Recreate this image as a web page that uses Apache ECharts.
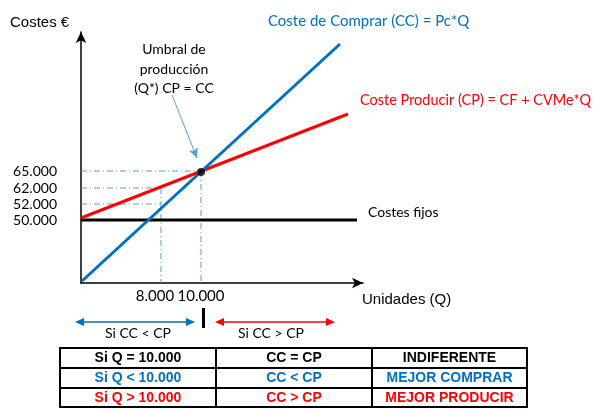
<!DOCTYPE html>
<html><head><meta charset="utf-8">
<script src="https://cdn.jsdelivr.net/npm/echarts@6/dist/echarts.min.js"></script>
<style>html,body{margin:0;padding:0;background:#fff}#c{width:608px;height:412px}</style>
</head><body><div id="c"></div>
<script>
// Schematic chart: positions are in schematic units (origin at axes corner)
const qTickPos = [80, 120];
const qTickLabels = ['8.000', '10.000'];
const costTickPos = [63, 79, 95, 112];
const costTickLabels = ['50.000', '52.000', '62.000', '65.000'];
const fixedCost = [[0, 63], [276, 63]];
const produceCost = [[0, 65], [267, 169]];
const buyCost = [[1, 2], [259, 239]];
const breakEven = [[120, 111]];
const annotationArrow = [[91, 188], [116, 125]];
const tableRows = [
  ['Si Q = 10.000', 'CC = CP', 'INDIFERENTE'],
  ['Si Q < 10.000', 'CC < CP', 'MEJOR COMPRAR'],
  ['Si Q > 10.000', 'CC > CP', 'MEJOR PRODUCIR']
];
const rowColors = ['#000000', '#0070C0', '#FF0000'];

const BLUE = '#0070C0', RED = '#FF0000', GUIDE = '#5B9BD5';
const CAL = 'Lato';
const ARIAL = '"Liberation Sans", Arial, sans-serif';

const guides = [
  [[0, costTickPos[3]], [qTickPos[1], costTickPos[3]]],
  [[qTickPos[1], costTickPos[3]], [qTickPos[1], 0]],
  [[0, costTickPos[2]], [qTickPos[0], costTickPos[2]]],
  [[0, costTickPos[1]], [qTickPos[0], costTickPos[1]]],
  [[qTickPos[0], costTickPos[2]], [qTickPos[0], 0]]
];

const guideSeries = guides.map(g => ({
  type: 'line', data: g, symbol: 'none', silent: true, z: 1,
  lineStyle: { color: GUIDE, width: 1, type: [6, 3, 1, 3] }
}));

function lbl(v, pos, labels) {
  const i = pos.indexOf(v);
  return i >= 0 ? labels[i] : '';
}

const chart = echarts.init(document.getElementById('c'), null, { renderer: 'canvas' });

// table graphics
const colX = [60, 216, 372, 527];
const rowY = [348, 368, 388, 407];
const tableEls = [];
tableEls.push({ type: 'rect', shape: { x: colX[0], y: rowY[0], width: colX[3] - colX[0], height: rowY[3] - rowY[0] }, style: { fill: 'none', stroke: '#000', lineWidth: 2 } });
for (let i = 1; i < 3; i++) {
  tableEls.push({ type: 'line', shape: { x1: colX[i], y1: rowY[0], x2: colX[i], y2: rowY[3] }, style: { stroke: '#000', lineWidth: 2 } });
  tableEls.push({ type: 'line', shape: { x1: colX[0], y1: rowY[i], x2: colX[3], y2: rowY[i] }, style: { stroke: '#000', lineWidth: 2 } });
}
tableRows.forEach((row, r) => {
  row.forEach((t, c) => {
    tableEls.push({ type: 'text', style: { text: t, x: (colX[c] + colX[c + 1]) / 2, y: (rowY[r] + rowY[r + 1]) / 2 + 0.5, align: 'center', verticalAlign: 'middle', fill: rowColors[r], font: 'bold 14px ' + ARIAL } });
  });
});

function dblArrow(x1, x2, y, color) {
  return [
    { type: 'line', shape: { x1: x1 + 6, y1: y, x2: x2 - 6, y2: y }, style: { stroke: color, lineWidth: 1.3 } },
    { type: 'polygon', shape: { points: [[x1, y], [x1 + 9, y - 4], [x1 + 9, y + 4]] }, style: { fill: color } },
    { type: 'polygon', shape: { points: [[x2, y], [x2 - 9, y - 4], [x2 - 9, y + 4]] }, style: { fill: color } }
  ];
}

const texts = [
  { type: 'text', style: { text: 'Costes €', x: 10, y: 23, verticalAlign: 'middle', fill: '#000', font: '15px ' + ARIAL } },
  { type: 'text', style: { text: 'Unidades (Q)', x: 362, y: 300, verticalAlign: 'middle', fill: '#000', font: '15px ' + ARIAL } },
  { type: 'text', style: { text: 'Coste de Comprar (CC) = Pc*Q', x: 268, y: 21, verticalAlign: 'middle', fill: BLUE, font: '15px ' + CAL } },
  { type: 'text', style: { text: 'Coste Producir (CP) = CF + CVMe*Q', x: 360, y: 100, verticalAlign: 'middle', fill: RED, font: '14.5px ' + CAL } },
  { type: 'text', style: { text: 'Costes fijos', x: 368, y: 212, verticalAlign: 'middle', fill: '#000', font: '14px ' + CAL } },
  { type: 'text', style: { text: 'Umbral de\nproducción\n(Q*) CP = CC', x: 174, y: 69, align: 'center', verticalAlign: 'middle', lineHeight: 19.5, fill: '#000', font: '14px ' + CAL } },
  { type: 'text', style: { text: 'Si CC < CP', x: 138, y: 333, align: 'center', verticalAlign: 'middle', fill: '#000', font: '14px ' + CAL } },
  { type: 'text', style: { text: 'Si CC > CP', x: 271, y: 333, align: 'center', verticalAlign: 'middle', fill: '#000', font: '14px ' + CAL } },
  { type: 'rect', shape: { x: 202, y: 308, width: 3, height: 20 }, style: { fill: '#000' } }
];

chart.setOption({
  animation: false,
  backgroundColor: '#fff',
  grid: { left: 81, top: 32, width: 282, height: 251, containLabel: false },
  xAxis: {
    type: 'value', min: 0, max: 282,
    splitLine: { show: false }, axisTick: { show: false },
    axisLine: { show: true, symbol: ['none', 'arrow'], symbolSize: [8, 11], lineStyle: { color: '#000', width: 1.5 } },
    axisLabel: {
      customValues: qTickPos, margin: 6,
      formatter: v => v === qTickPos[0] ? '{a|' + lbl(v, qTickPos, qTickLabels) + '}' : '{b|' + lbl(v, qTickPos, qTickLabels) + '}',
      color: '#000', fontSize: 15, fontFamily: CAL,
      rich: { a: { padding: [0, 12, 0, 0], color: '#000', fontSize: 15, fontFamily: CAL },
              b: { color: '#000', fontSize: 15, fontFamily: CAL } }
    }
  },
  yAxis: {
    type: 'value', min: 0, max: 251,
    splitLine: { show: false }, axisTick: { show: false },
    axisLine: { show: true, symbol: ['none', 'arrow'], symbolSize: [8, 11], lineStyle: { color: '#000', width: 1.5 } },
    axisLabel: {
      customValues: costTickPos, margin: 24,
      formatter: v => '{b|' + lbl(v, costTickPos, costTickLabels) + '}',
      color: '#000', fontSize: 14, fontFamily: CAL,
      rich: { b: { color: '#000', fontSize: 14, fontFamily: CAL } }
    }
  },
  series: guideSeries.concat([
    { type: 'line', name: 'Costes fijos', data: fixedCost, symbol: 'none', z: 3, lineStyle: { color: '#000', width: 3 } },
    { type: 'line', name: 'CP', data: produceCost, symbol: 'none', z: 4, lineStyle: { color: RED, width: 3 } },
    { type: 'line', name: 'CC', data: buyCost, symbol: 'none', z: 5, lineStyle: { color: BLUE, width: 3 },
      markLine: { silent: true, symbol: ['none', 'arrow'], symbolSize: [7, 10], label: { show: false },
        lineStyle: { color: GUIDE, width: 1, type: 'solid' },
        data: [[{ coord: annotationArrow[0] }, { coord: annotationArrow[1] }]] } },
    { type: 'scatter', data: breakEven, symbol: 'circle', symbolSize: 8, z: 6, itemStyle: { color: '#000' } }
  ]),
  graphic: texts.concat(dblArrow(75, 195, 322, BLUE), dblArrow(215, 335, 322, RED), tableEls)
});
</script></body></html>
